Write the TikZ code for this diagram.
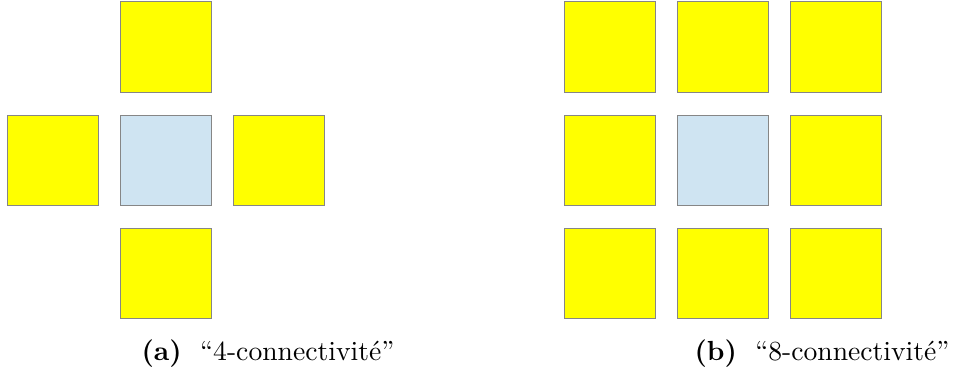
\documentclass[tikz,border=0pt]{standalone}
\definecolor{pixyellow}{RGB}{255, 255, 0}
\definecolor{pixblue}{RGB}{207, 228, 242}
\usepackage{tikz}

\begin{document}
\begin{tikzpicture}[
    x=0.38pt, y=-0.38pt,
    pix/.style={draw=gray!95, line width=0.5pt, fill=pixyellow, minimum size=34.4pt, inner sep=0pt},
    centre/.style={pix, fill=pixblue},
    caption/.style={font=\fontsize{10.5}{12.6}\selectfont, inner sep=0pt}
  ]
    \useasboundingbox (0,0) rectangle (957,387);
    % 4-connectivity
    \node[centre] (c4) at (166,160.5) {};
    \node[pix] (n4) at (166,47) {};
    \node[pix] (w4) at (53,160.5) {};
    \node[pix] (e4) at (279,160.5) {};
    \node[pix] (s4) at (166,273.5) {};
    % 8-connectivity
    \node[centre] (c8) at (723,160.5) {};
    \node[pix] (nw8) at (610,47) {};
    \node[pix] (n8) at (723,47) {};
    \node[pix] (ne8) at (836,47) {};
    \node[pix] (w8) at (610,160.5) {};
    \node[pix] (e8) at (836,160.5) {};
    \node[pix] (sw8) at (610,273.5) {};
    \node[pix] (s8) at (723,273.5) {};
    \node[pix] (se8) at (836,273.5) {};

    \node[caption] (capa) at (268,354) {\textbf{(a)}\ \ “4-connectivité”};
    \node[caption] (capb) at (822,354) {\textbf{(b)}\ \ “8-connectivité”};
  \end{tikzpicture}
\end{document}
